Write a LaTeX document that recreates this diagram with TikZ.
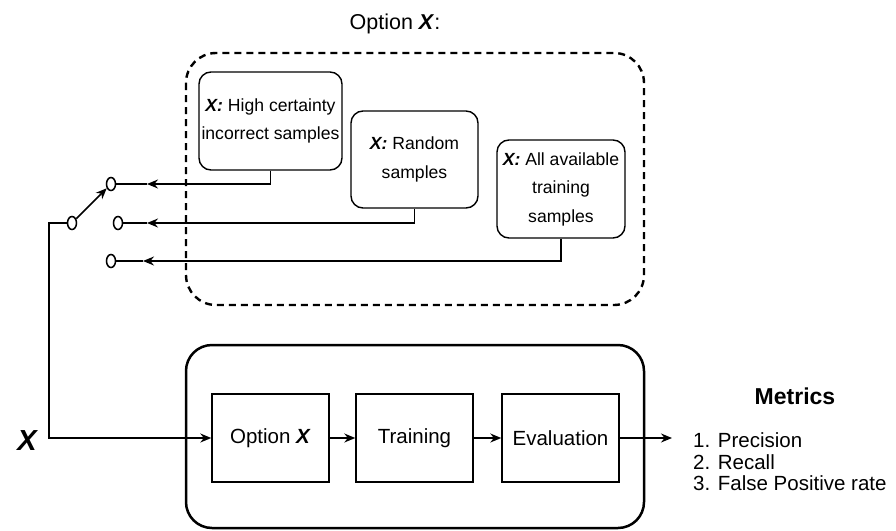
\documentclass[tikz,border=0pt]{standalone}
\usepackage{fontspec}
\setmainfont{Liberation Sans}
\usetikzlibrary{arrows.meta,shapes.geometric}

\begin{document}
\begin{tikzpicture}[x=1pt,y=-1pt,wire/.style={line width=1.5pt},tip/.style={-{Stealth[length=11pt,width=9pt]}},
opt/.style n args={2}{draw,line width=1.4pt,rounded corners=12pt,align=center,inner sep=0pt,minimum width=#1,minimum height=#2,font=\fontsize{17.6}{28.5}\selectfont},
stage/.style={draw,line width=1.4pt,inner sep=0pt,minimum width=117pt,minimum height=88pt,font=\fontsize{20.5}{24}\selectfont},
term/.style={draw,ellipse,line width=1.5pt,fill=white,inner sep=0pt,minimum width=9pt,minimum height=13pt}]
\useasboundingbox (0,0) rectangle (896,530);
% option X group
\node[font=\fontsize{21.5}{26}\selectfont] (title) at (395,24) {Option \textbf{\textit{X}}:};
\draw[line width=2.4pt,dash pattern=on 7pt off 5pt,rounded corners=30pt] (186,53) rectangle (644,305);
\node[opt={143pt}{98pt}] (o1) at (270.5,121) {\textbf{\textit{X:}} High certainty\\incorrect samples};
\node[opt={127pt}{97pt}] (o2) at (414.5,159.5) {\textbf{\textit{X:}} Random\\samples};
\node[opt={128pt}{98pt}] (o3) at (561,189) {\textbf{\textit{X:}} All available\\training\\samples};
% switch
\node[term] (t1) at (111,184) {};
\node[term] (t2) at (118,223) {};
\node[term] (t3) at (111,261) {};
\node[term] (sw) at (72,223) {};
\coordinate (a1) at (147,184);
\coordinate (a2) at (147,223);
\coordinate (a3) at (143,261);
\foreach \i in {1,2,3} {
   \draw[wire,tip] (o\i.south) |- (a\i);
   \draw[wire] (a\i) -- (t\i);
}
\draw[wire,tip] (sw) -- (t1);
% pipeline
\draw[line width=2.5pt,rounded corners=26pt] (186,345) rectangle (644,528);
\node[stage] (optx) at (270.5,438) {Option \textbf{\textit{X}}};
\node[stage] (train) at (414.5,438) {Training};
\node[stage] (eval) at (560.5,438) {Evaluation};
\node[font=\bfseries\itshape\fontsize{29}{34}\selectfont] (xin) at (27,441) {X};
\coordinate (c0) at (49,223);
\coordinate (out) at (672,438);
\draw[wire,tip] (sw) -- (c0) |- (optx);
\draw[wire,tip] (optx) -- (train);
\draw[wire,tip] (train) -- (eval);
\draw[wire,tip] (eval) -- (out);
% metrics
\node[font=\bfseries\fontsize{23}{28}\selectfont] (met) at (795,396) {Metrics};
\node[anchor=west,align=left,inner sep=0pt,font=\fontsize{20.5}{21.5}\selectfont] (mlist) at (693,462) {1. Precision\\2. Recall\\3. False Positive rate};
\end{tikzpicture}
\end{document}
